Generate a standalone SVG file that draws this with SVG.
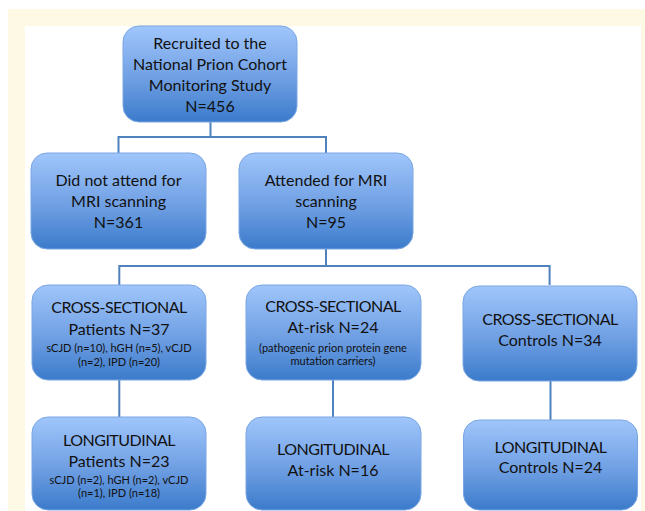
<svg xmlns="http://www.w3.org/2000/svg" width="645" height="511" viewBox="0 0 645 511">
<defs>
<linearGradient id="g" x1="0" y1="0" x2="0" y2="1">
<stop offset="0" stop-color="#a0c6fb"/>
<stop offset="0.55" stop-color="#6f9fe3"/>
<stop offset="1" stop-color="#3b7bcb"/>
</linearGradient>
<style>
.box{fill:url(#g);stroke:#7aa6e2;stroke-width:1}
.t{font-family:Lato,"Liberation Sans",sans-serif;font-size:16px;fill:#111;text-anchor:middle}
.cap{letter-spacing:-0.5px}
.s{font-family:Lato,"Liberation Sans",sans-serif;font-size:11px;fill:#111;text-anchor:middle}
.c{fill:none;stroke:#4f81bd;stroke-width:2}
</style>
</defs>
<rect x="0" y="0" width="645" height="511" fill="#ffffff"/>
<rect x="8" y="9" width="637" height="502" fill="#fef9e4"/>
<rect x="25" y="26" width="616" height="485" fill="#ffffff"/>
<g id="connectors">
<path class="c" d="M210.5 122V137M118.5 153V137H326V153"/>
<path class="c" d="M326 249V266M119.3 285V266H549.6V285"/>
<path class="c" d="M119.3 380V417M333 380V417M550.5 381V420"/>
</g>
<g id="recruited">
<rect class="box" x="123" y="26" width="174" height="96" rx="16"/>
<text class="t" x="210" y="49">Recruited to the</text>
<text class="t" x="210" y="70">National Prion Cohort</text>
<text class="t" x="210" y="91">Monitoring Study</text>
<text class="t" x="210" y="112">N=456</text>
</g>
<g id="not-attend">
<rect class="box" x="31" y="153" width="175" height="96" rx="16"/>
<text class="t" x="118.5" y="186">Did not attend for</text>
<text class="t" x="118.5" y="207">MRI scanning</text>
<text class="t" x="118.5" y="228">N=361</text>
</g>
<g id="attended">
<rect class="box" x="239" y="153" width="174" height="96" rx="16"/>
<text class="t" x="326" y="186">Attended for MRI</text>
<text class="t" x="326" y="207">scanning</text>
<text class="t" x="326" y="228">N=95</text>
</g>
<g id="cs-patients">
<rect class="box" x="32" y="285" width="174" height="95" rx="16"/>
<text class="t cap" x="119" y="313">CROSS-SECTIONAL</text>
<text class="t" x="119" y="335">Patients N=37</text>
<text class="s" x="119" y="352">sCJD (n=10), hGH (n=5), vCJD</text>
<text class="s" x="119" y="366">(n=2), IPD (n=20)</text>
</g>
<g id="cs-atrisk">
<rect class="box" x="246" y="285" width="175" height="95" rx="16"/>
<text class="t cap" x="333" y="312">CROSS-SECTIONAL</text>
<text class="t" x="333" y="333">At-risk N=24</text>
<text class="s" x="333" y="352">(pathogenic prion protein gene</text>
<text class="s" x="333" y="365">mutation carriers)</text>
</g>
<g id="cs-controls">
<rect class="box" x="463" y="286" width="174" height="95" rx="16"/>
<text class="t cap" x="550" y="325">CROSS-SECTIONAL</text>
<text class="t" x="550" y="346">Controls N=34</text>
</g>
<g id="long-patients">
<rect class="box" x="32" y="417" width="174" height="93" rx="16"/>
<text class="t cap" x="119" y="446">LONGITUDINAL</text>
<text class="t" x="119" y="467">Patients N=23</text>
<text class="s" x="119" y="484">sCJD (n=2), hGH (n=2), vCJD</text>
<text class="s" x="119" y="497">(n=1), IPD (n=18)</text>
</g>
<g id="long-atrisk">
<rect class="box" x="246" y="417" width="175" height="93" rx="16"/>
<text class="t cap" x="333" y="455">LONGITUDINAL</text>
<text class="t" x="333" y="476">At-risk N=16</text>
</g>
<g id="long-controls">
<rect class="box" x="463.5" y="420" width="174" height="90" rx="16"/>
<text class="t cap" x="550.5" y="453">LONGITUDINAL</text>
<text class="t" x="550.5" y="473">Controls N=24</text>
</g>
</svg>
